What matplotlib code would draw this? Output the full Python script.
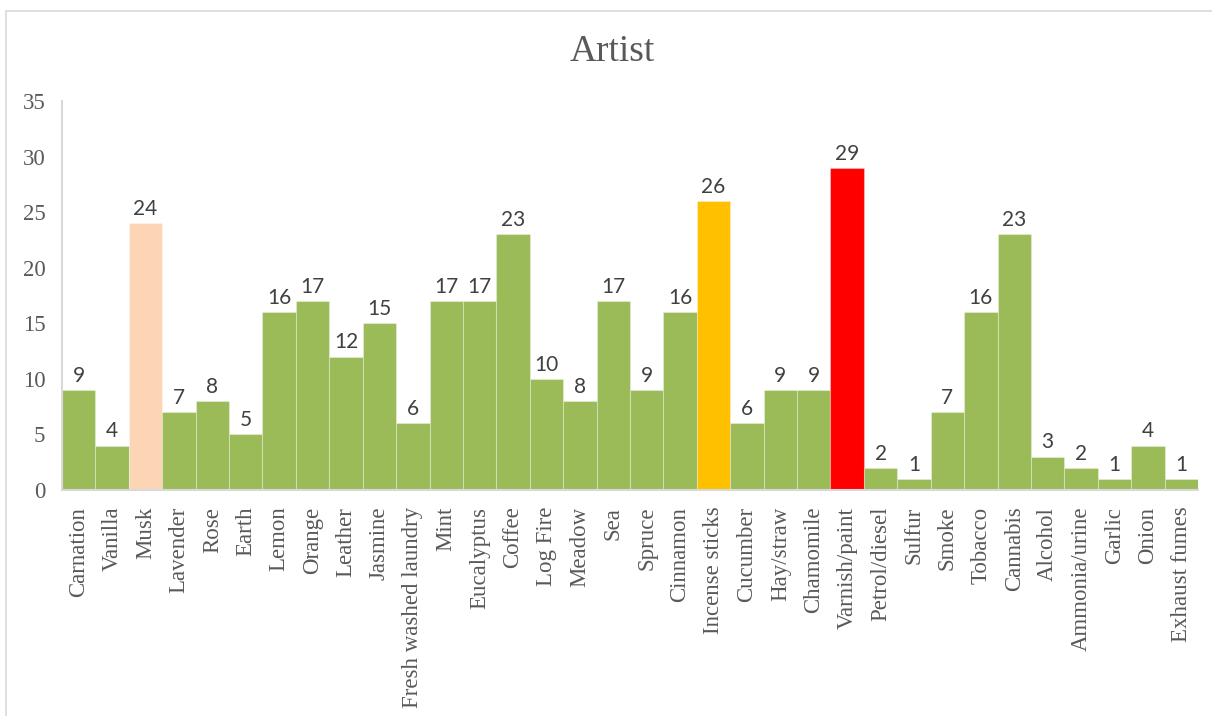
import matplotlib
matplotlib.use("Agg")
import matplotlib.pyplot as plt
from matplotlib.patches import Rectangle

categories = [
    "Carnation", "Vanilla", "Musk", "Lavender", "Rose", "Earth", "Lemon",
    "Orange", "Leather", "Jasmine", "Fresh washed laundry", "Mint",
    "Eucalyptus", "Coffee", "Log Fire", "Meadow", "Sea", "Spruce",
    "Cinnamon", "Incense sticks", "Cucumber", "Hay/straw", "Chamomile",
    "Varnish/paint", "Petrol/diesel", "Sulfur", "Smoke", "Tobacco",
    "Cannabis", "Alcohol", "Ammonia/urine", "Garlic", "Onion", "Exhaust fumes",
]
counts = [9, 4, 24, 7, 8, 5, 16, 17, 12, 15, 6, 17, 17, 23, 10, 8, 17, 9,
          16, 26, 6, 9, 9, 29, 2, 1, 7, 16, 23, 3, 2, 1, 4, 1]
highlights = {"Musk": "#FCD5B5", "Incense sticks": "#FFC000", "Varnish/paint": "#FF0000"}
base_color = "#9BBB59"
yticks = [0, 5, 10, 15, 20, 25, 30, 35]

colors = [highlights.get(c, base_color) for c in categories]

fig = plt.figure(figsize=(12.12, 7.16), dpi=100)
W, H = 1212, 716

# outer chart frame
fig.patches.append(Rectangle((6 / W, -0.1), 1.2, 1 - 11 / H + 0.1,
                             transform=fig.transFigure, fill=False,
                             edgecolor="#D9D9D9", linewidth=1.2))

ax = fig.add_axes([62 / W, 1 - 490 / H, (1198 - 62) / W, (490 - 101) / H])
x = range(len(categories))
ax.bar(x, counts, width=1.0, color=colors,
       edgecolor=(1, 1, 1, 0.3), linewidth=0.8)

ax.set_xlim(-0.5, len(categories) - 0.5)
ax.set_ylim(0, 35)
ax.set_yticks(yticks)
ax.set_yticklabels([str(t) for t in yticks], family="Liberation Serif",
                   fontsize=16.5, color="#595959")
ax.set_xticks(list(x))
ax.set_xticklabels(categories, rotation=90, family="Liberation Serif",
                   fontsize=16.5, color="#595959")
ax.tick_params(axis="y", length=0, pad=12)
ax.tick_params(axis="x", length=0, pad=12)

for side in ("top", "right"):
    ax.spines[side].set_visible(False)
for side in ("left", "bottom"):
    ax.spines[side].set_color("#D9D9D9")
    ax.spines[side].set_linewidth(1.5)

for i, v in enumerate(counts):
    ax.annotate(str(v), (i, v), xytext=(0, 3), textcoords="offset points",
                ha="center", va="bottom", family="Lato", fontsize=15,
                color="#404040")

fig.text(612 / W, 1 - 52 / H, "Artist", ha="center", va="center",
         family="Liberation Serif", fontsize=27, color="#595959")

fig.savefig("out.png", dpi=100, facecolor="white")
